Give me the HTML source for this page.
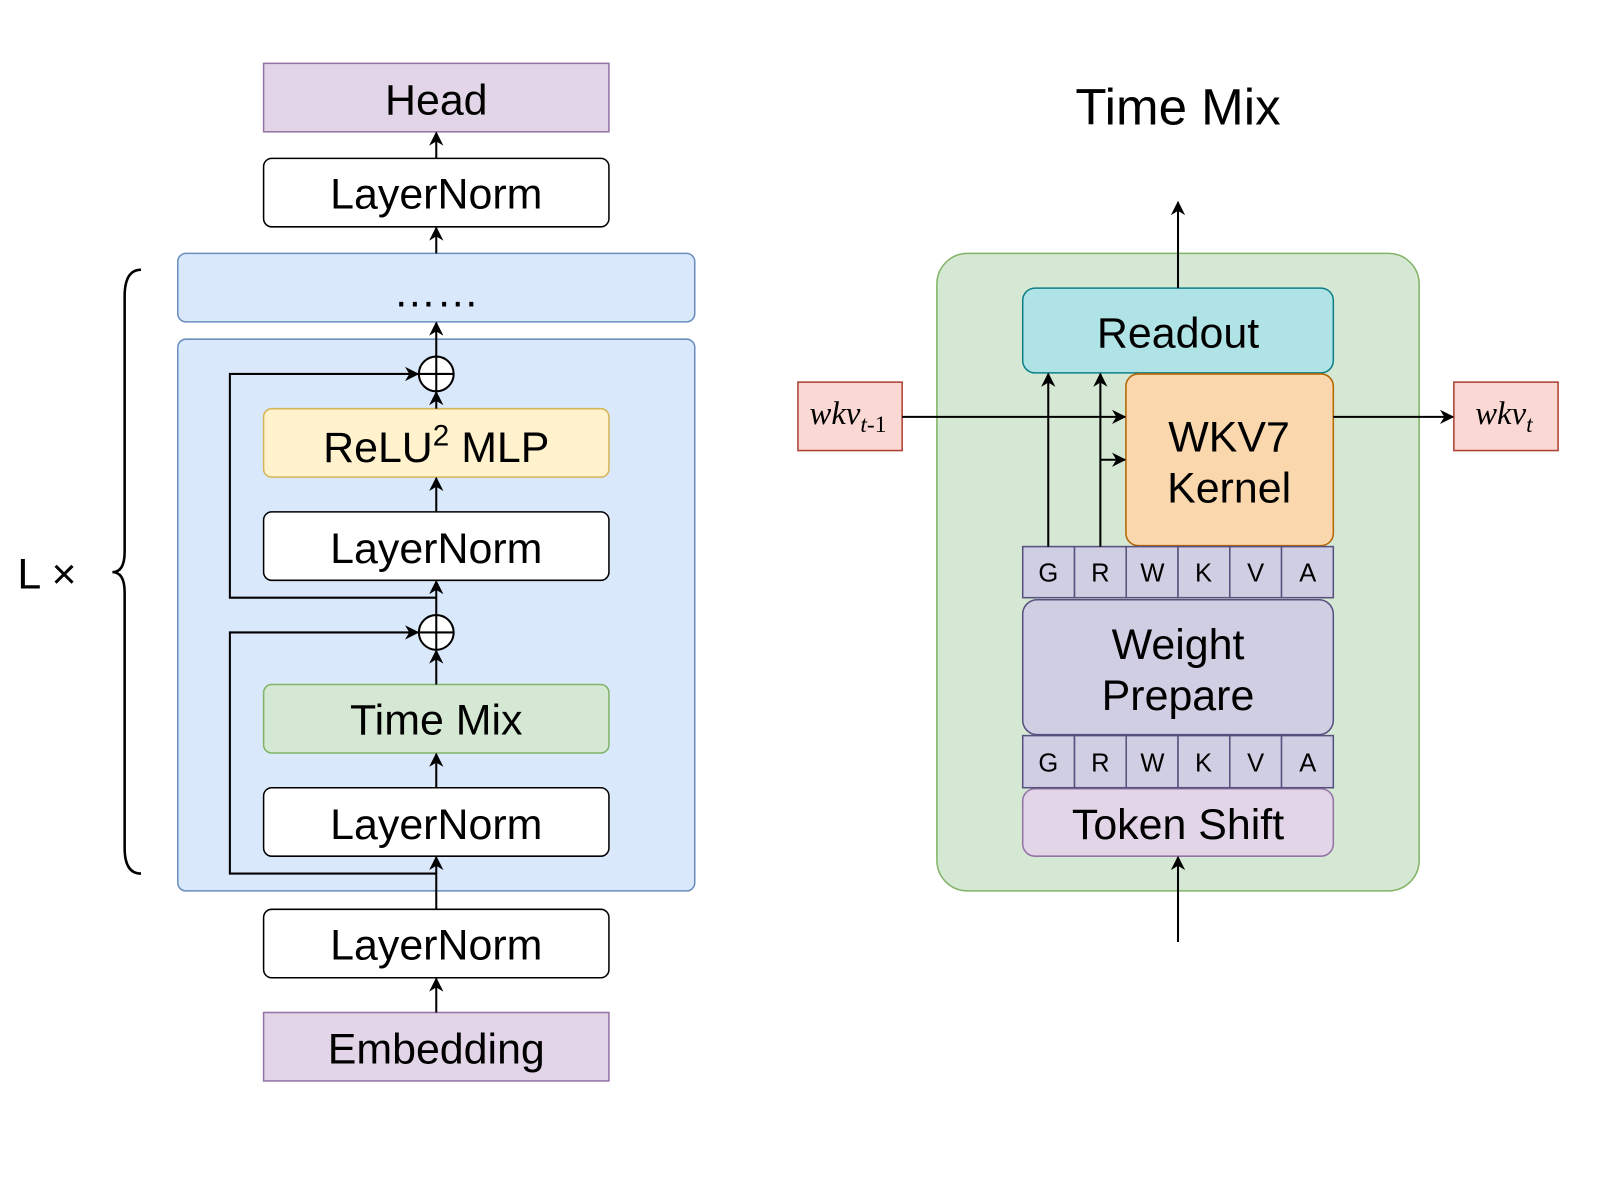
<!DOCTYPE html><html><head><style>body{margin:0;background:#fff}svg{display:block}text{font-family:"Liberation Sans",sans-serif;fill:#000}</style></head><body>
<svg width="1601" height="1201" viewBox="0 0 1567 1175.5" xmlns="http://www.w3.org/2000/svg">
<defs><marker id="a" viewBox="0 0 10 10" refX="9" refY="5" markerWidth="7" markerHeight="7" orient="auto"><path d="M0,0 L10,5 L0,10 L3,5z" fill="#000"/></marker></defs>
<g stroke-width="1.5">
<rect x="258" y="62" width="338" height="67" fill="#e1d5e7" stroke="#9673a6"/>
<rect x="258" y="155" width="338" height="67" rx="8" fill="#fff" stroke="#000"/>
<rect x="174" y="248" width="506" height="67" rx="8" fill="#dae8fc" stroke="#6c8ebf"/>
<rect x="174" y="332" width="506" height="540" rx="8" fill="#dae8fc" stroke="#6c8ebf"/>
<rect x="258" y="400" width="338" height="67" rx="8" fill="#fff2cc" stroke="#d6b656"/>
<rect x="258" y="501" width="338" height="67" rx="8" fill="#fff" stroke="#000"/>
<rect x="258" y="670" width="338" height="67" rx="8" fill="#d5e8d4" stroke="#82b366"/>
<rect x="258" y="771" width="338" height="67" rx="8" fill="#fff" stroke="#000"/>
<rect x="258" y="890" width="338" height="67" rx="8" fill="#fff" stroke="#000"/>
<rect x="258" y="991" width="338" height="67" fill="#e1d5e7" stroke="#9673a6"/>
</g>
<g stroke="#000" stroke-width="2" fill="none">
<line x1="427" y1="155" x2="427" y2="130" marker-end="url(#a)"/>
<line x1="427" y1="248" x2="427" y2="223" marker-end="url(#a)"/>
<line x1="427" y1="349" x2="427" y2="316" marker-end="url(#a)"/>
<line x1="427" y1="400" x2="427" y2="384" marker-end="url(#a)"/>
<line x1="427" y1="501" x2="427" y2="468" marker-end="url(#a)"/>
<line x1="427" y1="602" x2="427" y2="569" marker-end="url(#a)"/>
<line x1="427" y1="670" x2="427" y2="637" marker-end="url(#a)"/>
<line x1="427" y1="771" x2="427" y2="738" marker-end="url(#a)"/>
<line x1="427" y1="890" x2="427" y2="839" marker-end="url(#a)"/>
<line x1="427" y1="991" x2="427" y2="958" marker-end="url(#a)"/>
<polyline points="427,585 225,585 225,366 409,366" marker-end="url(#a)"/>
<polyline points="427,855 225,855 225,619 409,619" marker-end="url(#a)"/>
<circle cx="427" cy="366" r="17" fill="#fff"/><line x1="410" y1="366" x2="444" y2="366"/><line x1="427" y1="349" x2="427" y2="383"/>
<circle cx="427" cy="619" r="17" fill="#fff"/><line x1="410" y1="619" x2="444" y2="619"/><line x1="427" y1="602" x2="427" y2="636"/>
<path d="M138,264 Q122,264 122,290 L122,540 Q122,560 110,560 Q122,560 122,580 L122,830 Q122,855 138,855" stroke-width="2.5"/>
</g>
<g font-size="42" text-anchor="middle">
<text x="427" y="112">Head</text>
<text x="427" y="204">LayerNorm</text>
<text x="427" y="300">……</text>
<text x="427" y="452">ReLU<tspan font-size="29" dy="-16">2</tspan><tspan dy="16"> MLP</tspan></text>
<text x="427" y="551">LayerNorm</text>
<text x="427" y="719">Time Mix</text>
<text x="427" y="821">LayerNorm</text>
<text x="427" y="939">LayerNorm</text>
<text x="427" y="1041">Embedding</text>
<text x="46" y="576" font-size="42">L ×</text>
<text x="1153" y="122" font-size="50">Time Mix</text>
</g>
<g stroke-width="1.5">
<rect x="917" y="248" width="472" height="624" rx="30" fill="#d5e8d4" stroke="#82b366"/>
<rect x="1001" y="282" width="304" height="83" rx="12" fill="#b0e3e6" stroke="#0e8088"/>
<rect x="1102" y="366" width="203" height="168" rx="12" fill="#fad7ac" stroke="#b46504"/>
<rect x="1001" y="587" width="304" height="132" rx="14" fill="#d0cee2" stroke="#56517e"/>
<rect x="1001" y="772" width="304" height="66" rx="12" fill="#e1d5e7" stroke="#9673a6"/>
<rect x="781" y="374" width="102" height="67" fill="#fad9d5" stroke="#ae4132"/>
<rect x="1423" y="374" width="102" height="67" fill="#fad9d5" stroke="#ae4132"/>
<g fill="#d0cee2" stroke="#56517e">
<rect x="1001" y="535" width="50.7" height="50"/><rect x="1051.7" y="535" width="50.7" height="50"/><rect x="1102.3" y="535" width="50.7" height="50"/><rect x="1153" y="535" width="50.7" height="50"/><rect x="1203.7" y="535" width="50.7" height="50"/><rect x="1254.3" y="535" width="50.7" height="50"/>
<rect x="1001" y="720" width="50.7" height="51"/><rect x="1051.7" y="720" width="50.7" height="51"/><rect x="1102.3" y="720" width="50.7" height="51"/><rect x="1153" y="720" width="50.7" height="51"/><rect x="1203.7" y="720" width="50.7" height="51"/><rect x="1254.3" y="720" width="50.7" height="51"/>
</g></g>
<g stroke="#000" stroke-width="2" fill="none">
<line x1="1153" y1="282" x2="1153" y2="198" marker-end="url(#a)"/>
<line x1="1153" y1="922" x2="1153" y2="839" marker-end="url(#a)"/>
<line x1="883" y1="408" x2="1101" y2="408" marker-end="url(#a)"/>
<line x1="1305" y1="408" x2="1422" y2="408" marker-end="url(#a)"/>
<line x1="1026" y1="535" x2="1026" y2="366" marker-end="url(#a)"/>
<line x1="1077" y1="535" x2="1077" y2="366" marker-end="url(#a)"/>
<line x1="1077" y1="450" x2="1101" y2="450" marker-end="url(#a)"/>
</g>
<g text-anchor="middle">
<text x="1153" y="340" font-size="42">Readout</text>
<text x="1203" y="442" font-size="42">WKV7</text>
<text x="1203" y="492" font-size="42">Kernel</text>
<text x="1153" y="645" font-size="42">Weight</text>
<text x="1153" y="695" font-size="42">Prepare</text>
<text x="1153" y="821" font-size="42">Token Shift</text>
<g font-size="25"><text x="1026" y="569">G</text><text x="1077" y="569">R</text><text x="1128" y="569">W</text><text x="1178" y="569">K</text><text x="1229" y="569">V</text><text x="1280" y="569">A</text>
<text x="1026" y="755">G</text><text x="1077" y="755">R</text><text x="1128" y="755">W</text><text x="1178" y="755">K</text><text x="1229" y="755">V</text><text x="1280" y="755">A</text></g>
<text x="830" y="415" font-size="32" style="font-family:'Liberation Serif',serif;font-style:italic">wkv<tspan font-size="23" dy="8">t</tspan><tspan font-size="23" style="font-style:normal">-1</tspan></text>
<text x="1472" y="415" font-size="32" style="font-family:'Liberation Serif',serif;font-style:italic">wkv<tspan font-size="23" dy="8">t</tspan></text>
</g>
</svg></body></html>
